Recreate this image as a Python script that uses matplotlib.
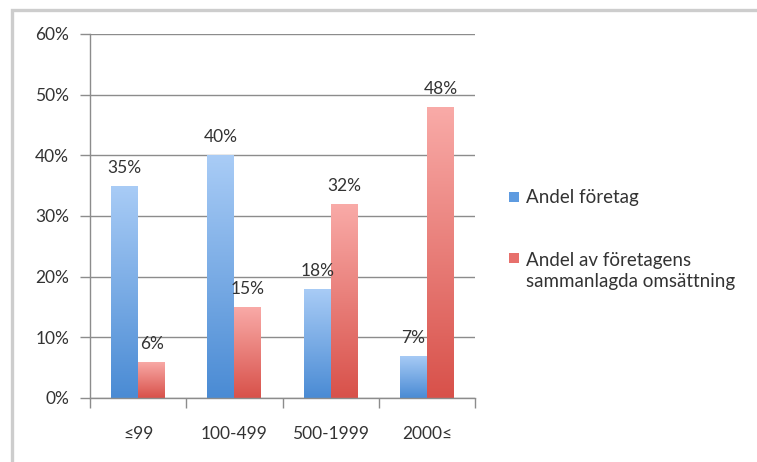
import matplotlib
matplotlib.use("Agg")
import matplotlib.pyplot as plt
import numpy as np
from matplotlib.colors import LinearSegmentedColormap
from matplotlib.patches import Rectangle
from matplotlib.ticker import FuncFormatter, MultipleLocator

plt.rcParams["font.family"] = ["Lato", "DejaVu Sans"]

# storleksklasser och andelar (%)
categories = ["≤99", "100-499", "500-1999", "2000≤"]
andel_foretag = [35, 40, 18, 7]
andel_omsattning = [6, 15, 32, 48]
series_names = ["Andel företag", "Andel av företagens\nsammanlagda omsättning"]

blue_grad = LinearSegmentedColormap.from_list("blue", ["#4a8bd4", "#a9ccf6"])
red_grad = LinearSegmentedColormap.from_list("red", ["#d8514a", "#f9aba8"])
legend_colors = ["#5e9be0", "#e7706c"]
text_color = "#333333"

fig = plt.figure(figsize=(7.57, 4.62), dpi=100)
fig.patches.append(Rectangle((12 / 757, -0.1), 1.2, 1 - 10 / 462 + 0.1,
                             transform=fig.transFigure, fill=False,
                             edgecolor="#cdcdcd", linewidth=2.4, zorder=0))
ax = fig.add_axes([90 / 757, 1 - 398 / 462, 385 / 757, 364 / 462])

x = np.arange(len(categories))
w = 0.28


def gradient_bars(xs, vals, cmap):
    bars = ax.bar(xs, vals, width=w, color="none", edgecolor="none", zorder=2)
    grad = np.linspace(0, 1, 256).reshape(-1, 1)
    for b in bars:
        bx, by = b.get_x(), b.get_y()
        bw, bh = b.get_width(), b.get_height()
        im = ax.imshow(grad, cmap=cmap, origin="lower", aspect="auto",
                       extent=(bx, bx + bw, by, by + bh), zorder=2)
        im.set_clip_path(b)
    return bars


gradient_bars(x - w / 2, andel_foretag, blue_grad)
gradient_bars(x + w / 2, andel_omsattning, red_grad)

for xs, vals in [(x - w / 2, andel_foretag), (x + w / 2, andel_omsattning)]:
    for xi, v in zip(xs, vals):
        ax.annotate(f"{v}%", (xi, v), xytext=(0, 18), textcoords="offset pixels",
                    ha="center", va="center", fontsize=12.5, color=text_color, zorder=4)

ax.set_xlim(-0.5, len(categories) - 0.5)
ax.set_ylim(0, 60)
ax.yaxis.set_major_locator(MultipleLocator(10))
ax.yaxis.set_major_formatter(FuncFormatter(lambda v, _: f"{v:.0f}%"))
ax.grid(axis="y", color="#8c8c8c", linewidth=1.0, zorder=1)
ax.set_axisbelow(True)

ax.set_xticks(x)
ax.set_xticklabels(categories, fontsize=12.5, color=text_color)
ax.set_xticks(np.arange(len(categories) + 1) - 0.5, minor=True)
ax.tick_params(axis="x", which="major", length=0, pad=20)
ax.tick_params(axis="x", which="minor", length=7, color="#8c8c8c", width=1)
ax.tick_params(axis="y", length=7, color="#8c8c8c", width=1, labelsize=12.5,
               labelcolor=text_color, pad=8)

for side in ["top", "right"]:
    ax.spines[side].set_visible(False)
for side in ["left", "bottom"]:
    ax.spines[side].set_color("#8c8c8c")
    ax.spines[side].set_linewidth(1.0)

# förklaring
legend_rows = [197, 258]
for name, c, row in zip(series_names, legend_colors, legend_rows):
    yy = 1 - row / 462
    fig.patches.append(Rectangle((509 / 757, yy - 5 / 462), 10 / 757, 10 / 462,
                                 transform=fig.transFigure, facecolor=c,
                                 edgecolor="none"))
    n_lines = name.count("\n") + 1
    fig.text(526 / 757, yy - (n_lines - 1) * 13 / 462, name, fontsize=13.5,
             color=text_color, va="center", linespacing=1.3)

fig.savefig("out.png", dpi=100)
